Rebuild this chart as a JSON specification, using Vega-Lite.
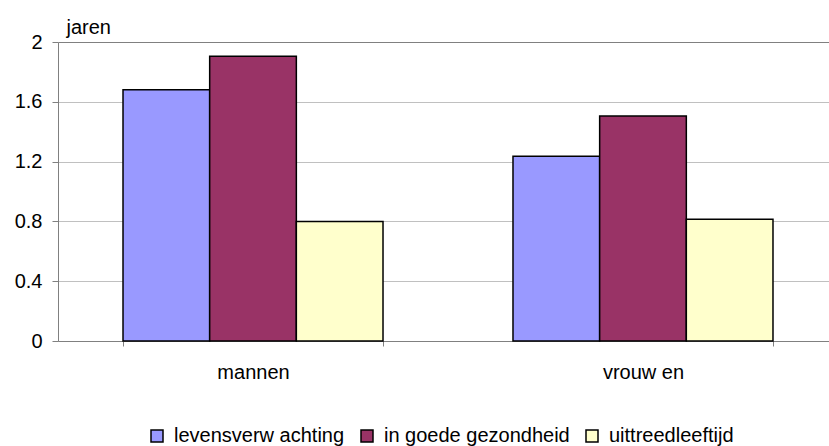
{
  "$schema": "https://vega.github.io/schema/vega-lite/v6.json",
  "width": 780,
  "height": 299,
  "autosize": {"type": "none"},
  "padding": {"left": 58, "top": 42, "right": 0, "bottom": 105},
  "background": "white",
  "config": {"view": {"stroke": null}, "font": "Liberation Sans"},
  "data": {"values": [
    {"geslacht": "mannen", "reeks": "levensverw achting", "waarde": 1.68},
    {"geslacht": "mannen", "reeks": "in goede gezondheid", "waarde": 1.905},
    {"geslacht": "mannen", "reeks": "uittreedleeftijd", "waarde": 0.80},
    {"geslacht": "vrouw en", "reeks": "levensverw achting", "waarde": 1.235},
    {"geslacht": "vrouw en", "reeks": "in goede gezondheid", "waarde": 1.505},
    {"geslacht": "vrouw en", "reeks": "uittreedleeftijd", "waarde": 0.815}
  ]},
  "mark": {"type": "bar", "stroke": "black", "strokeWidth": 1.5},
  "encoding": {
    "x": {
      "field": "geslacht", "type": "nominal", "sort": ["mannen", "vrouw en"],
      "scale": {"paddingInner": 0.3333, "paddingOuter": 0.1667},
      "axis": {"title": null, "labelAngle": 0, "tickBand": "extent", "labelFontSize": 20, "labelColor": "black",
               "domainColor": "#808080", "tickColor": "#808080", "tickSize": 5, "labelPadding": 16, "grid": false}
    },
    "xOffset": {"field": "reeks", "type": "nominal", "sort": ["levensverw achting", "in goede gezondheid", "uittreedleeftijd"]},
    "y": {
      "field": "waarde", "type": "quantitative", "scale": {"domain": [0, 2], "nice": false},
      "axis": {"values": [0, 0.4, 0.8, 1.2, 1.6, 2], "format": "~g", "title": "jaren", "titleAngle": 0, "titleAlign": "left",
               "titleBaseline": "alphabetic", "titleX": 8, "titleY": -9, "titleFontSize": 20, "titleFontWeight": "normal",
               "titleColor": "black", "labelFontSize": 20, "labelColor": "black", "tickSize": 6, "labelPadding": 10,
               "domainColor": "#808080", "tickColor": "#808080",
               "gridColor": {"condition": {"test": "datum.value == 2", "value": "#808080"}, "value": "#c0c0c0"}}
    },
    "fill": {
      "field": "reeks", "type": "nominal",
      "scale": {"domain": ["levensverw achting", "in goede gezondheid", "uittreedleeftijd"], "range": ["#9999FF", "#993366", "#FFFFCC"]},
      "legend": {"orient": "none", "direction": "horizontal", "legendX": 89, "legendY": 384, "title": null,
                 "symbolType": "square", "symbolSize": 144, "symbolStrokeColor": "black", "symbolStrokeWidth": 1.5,
                 "labelFontSize": 20, "labelColor": "black", "columnPadding": 12, "labelOffset": 7, "labelLimit": 400}
    }
  }
}
